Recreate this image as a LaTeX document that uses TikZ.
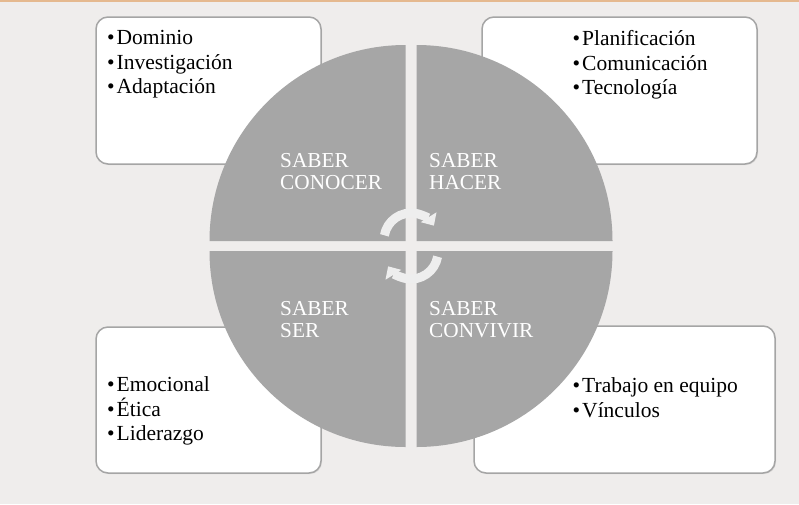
\documentclass[tikz,border=0pt]{standalone}
\usepackage{fontspec}
\setmainfont{Liberation Serif}
\usetikzlibrary{arrows.meta,shadows}
\definecolor{bg-grey}{RGB}{239,237,236}
\definecolor{quad-grey}{RGB}{166,166,166}
\definecolor{box-line}{RGB}{165,165,165}
\definecolor{top-orange}{RGB}{229,185,143}
\definecolor{arrow-white}{RGB}{238,238,238}

\begin{document}
\begin{tikzpicture}[x=1pt, y=1pt,
    listbox/.style={draw=box-line, line width=1.5pt, fill=white, rounded corners=12pt,
        drop shadow={opacity=0.2, shadow xshift=1pt, shadow yshift=-1pt}},
    listtext/.style={anchor=north west, inner sep=0pt, align=left,
        font=\fontsize{21.5}{24.5}\selectfont},
    quadlabel/.style={anchor=north west, inner sep=0pt, align=left, text=white,
        font=\fontsize{21.3}{22}\selectfont},
    cyclearrow/.style={draw=arrow-white, line width=9pt, line cap=butt,
        -{Triangle[width=18pt,length=10pt]}}]

\useasboundingbox (0,0) rectangle (799,-504);
\fill[bg-grey] (0,0) rectangle (799,-504);
\fill[top-orange] (0,0) rectangle (799,-2);

% Boxes
\node[listbox, minimum width=225pt, minimum height=147pt] (conocerbox) at (208.5,-90.5) {};
\node[listbox, minimum width=275pt, minimum height=147pt] (hacerbox)   at (619.5,-90.5) {};
\node[listbox, minimum width=225pt, minimum height=146pt] (serbox)     at (208.5,-400)  {};
\node[listbox, minimum width=301pt, minimum height=147pt] (convivirbox) at (624.5,-399.5) {};

% Box texts
\node[listtext] (conocerlist) at (107,-30.5)
    {•\hspace{2pt}Dominio\\•\hspace{2pt}Investigación\\•\hspace{2pt}Adaptación};
\node[listtext] (hacerlist) at (572.5,-30.5)
    {•\hspace{2pt}Planificación\\•\hspace{2pt}Comunicación\\•\hspace{2pt}Tecnología};
\node[listtext] (serlist) at (107,-376.5)
    {•\hspace{2pt}Emocional\\•\hspace{2pt}Ética\\•\hspace{2pt}Liderazgo};
\node[listtext] (convivirlist) at (572.5,-377.5)
    {•\hspace{2pt}Trabajo en equipo\\•\hspace{2pt}Vínculos};

% Quadrants
\fill[quad-grey] (405.5,-241) -- ++(180:196) arc (180:90:196) -- cycle;
\fill[quad-grey] (416.5,-241) -- ++(90:196) arc (90:0:196) -- cycle;
\fill[quad-grey] (405.5,-251) -- ++(270:196) arc (270:180:196) -- cycle;
\fill[quad-grey] (416.5,-251) -- ++(0:196) arc (0:-90:196) -- cycle;

% Quadrant labels
\node[quadlabel] (conocer)  at (280,-153) {SABER\\CONOCER};
\node[quadlabel] (hacer)    at (429,-153) {SABER\\HACER};
\node[quadlabel] (ser)      at (280,-301) {SABER\\SER};
\node[quadlabel] (convivir) at (429,-301) {SABER\\CONVIVIR};

% Cycle arrows
\coordinate (topcycle) at (411,-240);
\coordinate (botcycle) at (411,-252);
\draw[cyclearrow] (topcycle) ++(170:27) arc (170:32:27);
\draw[cyclearrow] (botcycle) ++(-10:27) arc (-10:-148:27);

\end{tikzpicture}
\end{document}
